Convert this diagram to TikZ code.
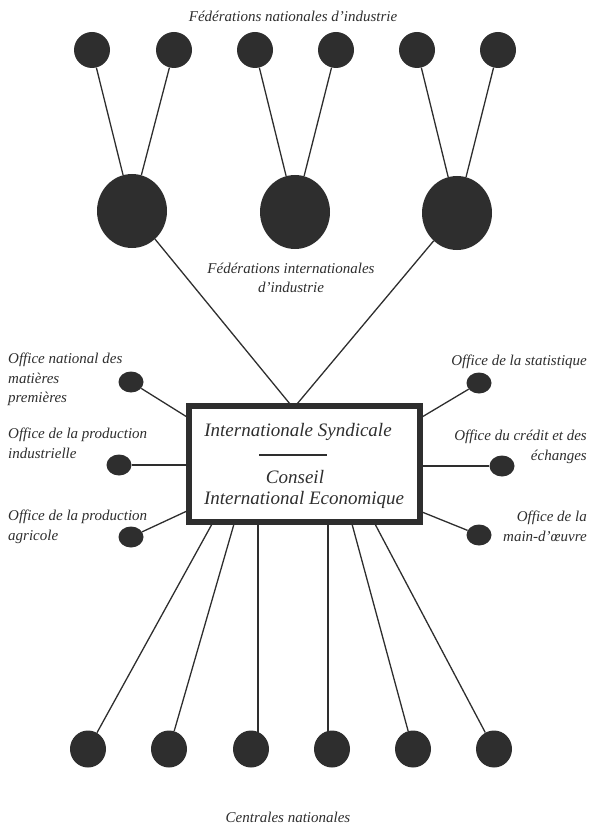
\documentclass[tikz,border=0pt]{standalone}
\usepackage{fontspec}
\setmainfont{Liberation Serif}
\usetikzlibrary{shapes.geometric}
\definecolor{ink}{HTML}{2E2E2E}
\begin{document}
\begin{tikzpicture}[x=1pt,y=-1pt,
  dot/.style={ellipse, fill=ink, inner sep=0pt},
  natdot/.style={dot, minimum width=36pt, minimum height=36pt},
  intdot/.style={dot, minimum width=70pt, minimum height=74pt},
  offdot/.style={dot, minimum width=25pt, minimum height=21pt},
  cendot/.style={dot, minimum width=36pt, minimum height=37pt},
  link/.style={draw=ink, line width=1.3pt},
  lbl/.style={font=\fontsize{15}{19.5}\selectfont\itshape, text=ink, inner sep=0pt},
  llbl/.style={lbl, align=left, anchor=north west},
  rlbl/.style={lbl, align=right, anchor=north east},
  boxtxt/.style={font=\fontsize{19}{24}\selectfont\itshape, text=ink, inner sep=0pt},
]
\useasboundingbox (0,0) rectangle (591,834);

% national federations
\node[lbl] (tnat) at (293,16) {Fédérations nationales d’industrie};
\foreach \i/\x in {1/92,2/174,3/255,4/336,5/417,6/498}
  \node[natdot] (n\i) at (\x,50) {};

% international federations
\node[intdot] (f1) at (132,211) {};
\node[intdot] (f2) at (295,212) {};
\node[intdot] (f3) at (457,213) {};
\node[lbl, align=center] (tint) at (291,278) {Fédérations internationales\\d’industrie};

\draw[link] (n1) -- (f1);
\draw[link] (n2) -- (f1);
\draw[link] (n3) -- (f2);
\draw[link] (n4) -- (f2);
\draw[link] (n5) -- (f3);
\draw[link] (n6) -- (f3);

% central box
\node[draw=ink, line width=6pt, minimum width=231pt, minimum height=116pt, inner sep=0pt]
  (box) at (304.5,464) {};
\node[boxtxt] (is) at (298,432) {Internationale Syndicale};
\coordinate (ra) at (259,455);
\coordinate (rb) at (327,455);
\draw[ink, line width=1.2pt] (ra) -- (rb);
\node[boxtxt] (cs) at (295,477) {Conseil};
\node[boxtxt] (cie) at (304,500) {International Economique};

\coordinate (ta) at (290,404);
\coordinate (tb) at (297,404);
\draw[link] (f1) -- (ta);
\draw[link] (f3) -- (tb);

% offices, left side
\node[offdot] (l1) at (131,382) {};
\node[offdot] (l2) at (119,465) {};
\node[offdot] (l3) at (131,537) {};
\node[llbl] (ll1) at (8,353) {Office national des\\matières\\premières};
\node[llbl] (ll2) at (8,428) {Office de la production\\industrielle};
\node[llbl] (ll3) at (8,510) {Office de la production\\agricole};
\coordinate (la) at (187,417);
\coordinate (lb) at (187,465);
\coordinate (lc) at (187,511);
\draw[link] (l1) -- (la);
\draw[link] (l2) -- (lb);
\draw[link] (l3) -- (lc);

% offices, right side
\node[offdot] (r1) at (479,383) {};
\node[offdot] (r2) at (502,466) {};
\node[offdot] (r3) at (479,535) {};
\node[rlbl] (rl1) at (587,355) {Office de la statistique};
\node[rlbl] (rl2) at (587,430) {Office du crédit et des\\échanges};
\node[rlbl] (rl3) at (587,511) {Office de la\\main-d’œuvre};
\coordinate (ra1) at (422,417);
\coordinate (rb1) at (422,466);
\coordinate (rc1) at (422,512);
\draw[link] (r1) -- (ra1);
\draw[link] (r2) -- (rb1);
\draw[link] (r3) -- (rc1);

% national centres
\foreach \i/\x in {1/88,2/169,3/251,4/332,5/413,6/494}
  \node[cendot] (c\i) at (\x,749) {};
\foreach \i/\x in {1/212,2/234,3/258,4/328,5/352,6/375}
  \coordinate (s\i) at (\x,524);
\draw[link] (s1) -- (c1);
\draw[link] (s2) -- (c2);
\draw[link] (s3) -- (s3 |- c3.center);
\draw[link] (s4) -- (s4 |- c4.center);
\draw[link] (s5) -- (c5);
\draw[link] (s6) -- (c6);
\node[lbl] (tcen) at (288,817) {Centrales nationales};
\end{tikzpicture}
\end{document}
